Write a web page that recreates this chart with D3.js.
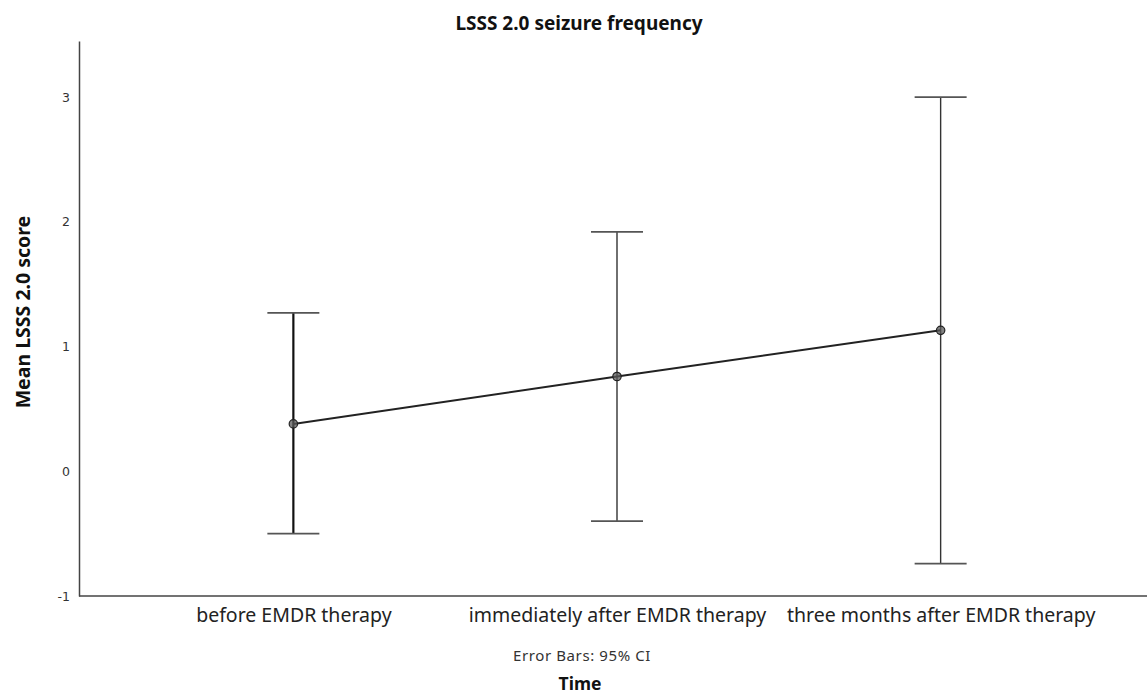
<!DOCTYPE html>
<html>
<head>
<meta charset="utf-8">
<script src="https://cdn.jsdelivr.net/npm/d3@7"></script>
<style>
  body { margin: 0; background: #fff; }
  svg { display: block; }
</style>
</head>
<body>
<div id="chart"></div>
<script>
const categories = ["before EMDR therapy", "immediately after EMDR therapy", "three months after EMDR therapy"];
const means = [0.38, 0.76, 1.13];
const ciLower = [-0.50, -0.40, -0.74];
const ciUpper = [1.27, 1.92, 3.00];
const yTicks = [-1, 0, 1, 2, 3];

const width = 1147, height = 697;
const margin = {top: 41, right: 0, bottom: 101, left: 79};

const svg = d3.select("#chart")
  .append("svg")
  .attr("width", width)
  .attr("height", height);

const x = d3.scalePoint()
  .domain(categories)
  .range([margin.left + 4, width + 4])
  .padding(0.65);

const y = d3.scaleLinear()
  .domain([-1, 3.45])
  .range([height - margin.bottom, margin.top]);

const data = categories.map((c, i) => ({cat: c, mean: means[i], lo: ciLower[i], hi: ciUpper[i]}));

// axes
const yAxis = svg.append("g")
  .attr("transform", `translate(${margin.left},0)`)
  .call(d3.axisLeft(y).tickValues(yTicks).tickSize(0).tickPadding(9).tickFormat(d => String(d)));
yAxis.select(".domain").attr("stroke", "#444").attr("stroke-width", 1.5);
yAxis.selectAll("text")
  .attr("font-family", "DejaVu Sans, sans-serif")
  .attr("font-size", 12.5)
  .attr("fill", "#333");

const xAxis = svg.append("g")
  .attr("transform", `translate(0,${height - margin.bottom})`)
  .call(d3.axisBottom(x).tickSize(0));
xAxis.select(".domain").attr("stroke", "#444").attr("stroke-width", 1.5)
  .attr("d", `M${margin.left},0H${width}`);
xAxis.selectAll("text")
  .attr("y", 26)
  .attr("dy", 0)
  .attr("font-family", "Noto Sans, sans-serif")
  .attr("font-size", 19.5)
  .attr("fill", "#222");

// error bars
const eb = svg.append("g").selectAll("g")
  .data(data)
  .enter()
  .append("g");

eb.append("line")
  .attr("x1", d => x(d.cat)).attr("x2", d => x(d.cat))
  .attr("y1", d => y(d.lo)).attr("y2", d => y(d.hi))
  .attr("stroke", (d, i) => i === 0 ? "#111" : "#333")
  .attr("stroke-width", (d, i) => i === 0 ? 2.2 : 1.4);

["lo", "hi"].forEach(k => {
  eb.append("line")
    .attr("x1", d => x(d.cat) - 26).attr("x2", d => x(d.cat) + 26)
    .attr("y1", d => y(d[k])).attr("y2", d => y(d[k]))
    .attr("stroke", "#555")
    .attr("stroke-width", 1.8);
});

// mean line
const line = d3.line()
  .x(d => x(d.cat))
  .y(d => y(d.mean));

svg.append("path")
  .datum(data)
  .attr("d", line)
  .attr("fill", "none")
  .attr("stroke", "#222")
  .attr("stroke-width", 2);

svg.append("g").selectAll("circle")
  .data(data)
  .enter()
  .append("circle")
  .attr("cx", d => x(d.cat))
  .attr("cy", d => y(d.mean))
  .attr("r", 4.2)
  .attr("fill", "rgba(90,90,90,0.75)")
  .attr("stroke", "#222")
  .attr("stroke-width", 1.2);

// titles
svg.append("text")
  .attr("x", 579).attr("y", 30)
  .attr("text-anchor", "middle")
  .attr("font-family", "Noto Sans, sans-serif")
  .attr("font-weight", "bold")
  .attr("font-size", 19)
  .attr("fill", "#111")
  .text("LSSS 2.0 seizure frequency");

svg.append("text")
  .attr("transform", "translate(30,312)rotate(-90)")
  .attr("text-anchor", "middle")
  .attr("font-family", "Noto Sans, sans-serif")
  .attr("font-weight", "bold")
  .attr("font-size", 19.5)
  .attr("fill", "#111")
  .text("Mean LSSS 2.0 score");

svg.append("text")
  .attr("x", 582).attr("y", 661)
  .attr("text-anchor", "middle")
  .attr("font-family", "Noto Sans, sans-serif")
  .attr("font-size", 15)
  .attr("letter-spacing", 0.6)
  .attr("fill", "#333")
  .text("Error Bars: 95% CI");

svg.append("text")
  .attr("x", 580).attr("y", 690)
  .attr("text-anchor", "middle")
  .attr("font-family", "Noto Sans, sans-serif")
  .attr("font-weight", "bold")
  .attr("font-size", 17.5)
  .attr("fill", "#111")
  .text("Time");
</script>
</body>
</html>
